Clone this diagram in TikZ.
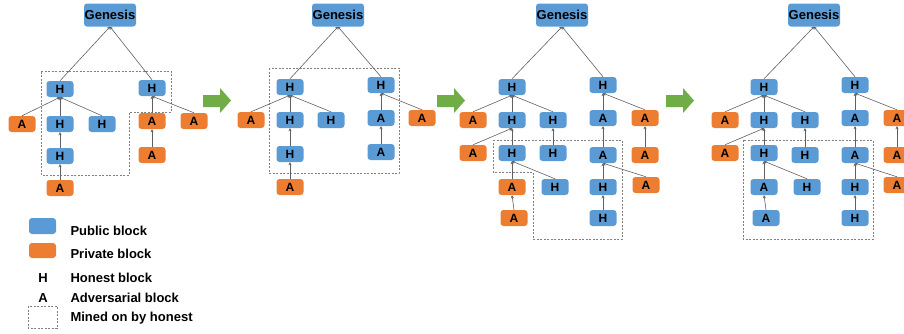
\documentclass[tikz,border=0pt]{standalone}
\usepackage{fontspec}
\setmainfont{Liberation Sans}
\usetikzlibrary{arrows.meta}

\definecolor{pubblue}{HTML}{5B9BD5}
\definecolor{privorange}{HTML}{ED7D31}
\definecolor{stepgreen}{HTML}{70AD47}
\definecolor{linkgray}{HTML}{606060}

\begin{document}
\begin{tikzpicture}[x=1pt,y=-1pt,
    blk/.style={rounded corners=3pt, minimum width=27pt, minimum height=16pt, inner sep=0pt,
        font=\fontsize{12}{12}\selectfont\bfseries},
    pub/.style={blk, fill=pubblue},
    priv/.style={blk, fill=privorange},
    gen/.style={pub, minimum width=52pt, minimum height=23pt, font=\fontsize{13}{13}\selectfont\bfseries},
    link/.style={draw=linkgray, line width=0.6pt, -{Stealth[length=3pt,width=3pt]}},
    mined/.style={draw=gray, dash pattern=on 2pt off 1.5pt, line width=0.6pt},
    legend/.style={anchor=base west, font=\fontsize{13}{13}\selectfont\bfseries}]
    \useasboundingbox (0,0) rectangle (904,333);
    \clip (0,0) rectangle (904,333);

    % Step 1
    \node[gen] (p1g) at (110,15) {Genesis};
    \node[pub] (p1l1) at (60,89) {H};
    \node[priv] (p1l2x) at (22,124) {A};
    \node[pub] (p1l2) at (60,124) {H};
    \node[pub] (p1l2y) at (102,124) {H};
    \node[pub] (p1l3) at (60,156) {H};
    \node[priv] (p1l4) at (60,188) {A};
    \node[pub] (p1r1) at (152,88) {H};
    \node[priv] (p1r2) at (152,121) {A};
    \node[priv] (p1r2y) at (194,121) {A};
    \node[priv] (p1r3) at (152,155) {A};
    \draw[mined] (41,71) -- (171,71) -- (171,112) -- (129,112) -- (129,175) -- (41,175) -- cycle;

    % Step 2
    \node[gen] (p2g) at (338,15) {Genesis};
    \node[pub] (p2l1) at (290,87) {H};
    \node[priv] (p2l2x) at (251,120) {A};
    \node[pub] (p2l2) at (290,120) {H};
    \node[pub] (p2l2y) at (331,120) {H};
    \node[pub] (p2l3) at (290,154) {H};
    \node[priv] (p2l4) at (290,187) {A};
    \node[pub] (p2r1) at (381,85) {H};
    \node[pub] (p2r2) at (381,118) {A};
    \node[priv] (p2r2y) at (422,118) {A};
    \node[pub] (p2r3) at (381,152) {A};
    \draw[mined] (269,68) rectangle (399,173);

    % Links of steps 1 and 2
    \foreach \p in {p1,p2} {
        \foreach \c/\q in {l1/g, r1/g, l2x/l1, l2/l1, l2y/l1, l3/l2, l4/l3, r2/r1, r2y/r1, r3/r2}
            \draw[link] (\p\c.north) -- (\p\q.south);
    }

    % Step 3
    \node[gen] (p3g) at (562,15) {Genesis};
    \node[pub] (p3l1) at (512,87) {H};
    \node[priv] (p3l2x) at (473,120) {A};
    \node[pub] (p3l2) at (512,120) {H};
    \node[pub] (p3l2y) at (553,120) {H};
    \node[priv] (p3l3x) at (473,153) {A};
    \node[pub] (p3l3) at (512,153) {H};
    \node[pub] (p3l3y) at (553,153) {H};
    \node[priv] (p3l4) at (512,187) {A};
    \node[pub] (p3l4y) at (555,187) {H};
    \node[priv] (p3l5) at (514,218) {A};
    \node[pub] (p3r1) at (603,85) {H};
    \node[pub] (p3r2) at (603,118) {A};
    \node[priv] (p3r2y) at (645,118) {A};
    \node[pub] (p3r3) at (603,155) {A};
    \node[priv] (p3r3y) at (645,155) {A};
    \node[pub] (p3r4) at (603,187) {H};
    \node[priv] (p3r4y) at (646,185) {A};
    \node[pub] (p3r5) at (603,218) {H};
    \draw[mined] (493,140) -- (622,140) -- (622,239) -- (533,239) -- (533,172) -- (493,172) -- cycle;

    % Step 4
    \node[gen] (p4g) at (814,15) {Genesis};
    \node[pub] (p4l1) at (764,87) {H};
    \node[priv] (p4l2x) at (725,120) {A};
    \node[pub] (p4l2) at (764,120) {H};
    \node[pub] (p4l2y) at (805,120) {H};
    \node[priv] (p4l3x) at (725,153) {A};
    \node[pub] (p4l3) at (764,153) {H};
    \node[pub] (p4l3y) at (805,155) {H};
    \node[pub] (p4l4) at (764,187) {A};
    \node[pub] (p4l4y) at (807,187) {H};
    \node[pub] (p4l5) at (766,218) {A};
    \node[pub] (p4r1) at (855,85) {H};
    \node[pub] (p4r2) at (855,118) {A};
    \node[priv] (p4r2y) at (897,118) {A};
    \node[pub] (p4r3) at (855,155) {A};
    \node[priv] (p4r3y) at (897,155) {A};
    \node[pub] (p4r4) at (855,187) {H};
    \node[priv] (p4r4y) at (897,185) {A};
    \node[pub] (p4r5) at (855,218) {H};
    \draw[mined] (743,140) rectangle (873,239);

    % Links of steps 3 and 4
    \foreach \p in {p3,p4} {
        \foreach \c/\q in {l1/g, r1/g, l2x/l1, l2/l1, l2y/l1, l3x/l2, l3/l2, l3y/l2y, l4/l3, l4y/l3, l5/l4,
                r2/r1, r2y/r1, r3/r2, r3y/r2y, r4/r3, r4y/r3, r5/r4}
            \draw[link] (\p\c.north) -- (\p\q.south);
    }

    % Arrows between steps
    \foreach \x in {203,437,666}
        \fill[stepgreen] (\x,95) -- (\x+17,95) -- (\x+17,88) -- (\x+28,100.5) -- (\x+17,113) -- (\x+17,107) -- (\x,107) -- cycle;

    % Legend
    \fill[pubblue, rounded corners=3pt] (29,218) rectangle (56,234);
    \fill[privorange, rounded corners=3pt] (29,243) rectangle (56,258);
    \draw[mined] (28,306) rectangle (57,328);
    \node[legend] (lpub) at (67,235) {Public block};
    \node[legend] (lpriv) at (67,258) {Private block};
    \node[legend, anchor=base] (lh) at (43,282) {H};
    \node[legend] (lhon) at (67,282) {Honest block};
    \node[legend, anchor=base] (la) at (43,302) {A};
    \node[legend] (ladv) at (67,302) {Adversarial block};
    \node[legend] (lmined) at (67,321) {Mined on by honest};
\end{tikzpicture}
\end{document}
